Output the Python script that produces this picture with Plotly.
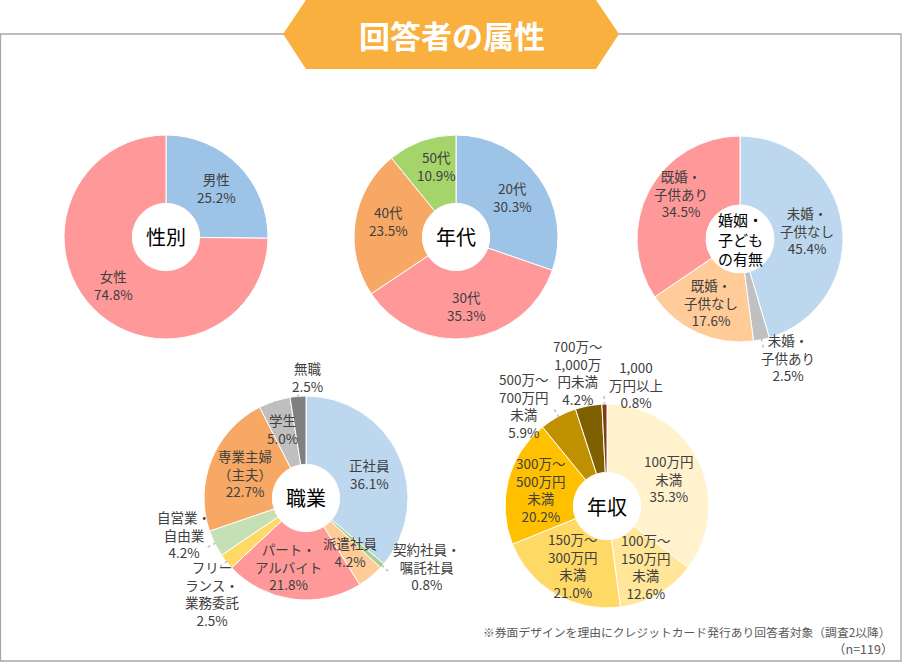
import math
import plotly.graph_objects as go

W, H = 902, 662

# ---------------- data ----------------
gender_labels = ["男性", "女性"]
gender_values = [25.2, 74.8]

age_labels = ["20代", "30代", "40代", "50代"]
age_values = [30.3, 35.3, 23.5, 10.9]

marital_labels = ["未婚・<br>子供なし", "未婚・<br>子供あり", "既婚・<br>子供なし", "既婚・<br>子供あり"]
marital_values = [45.4, 2.5, 17.6, 34.5]

job_labels = ["正社員", "契約社員・<br>嘱託社員", "派遣社員", "パート・<br>アルバイト",
              "フリー<br>ランス・<br>業務委託", "自営業・<br>自由業", "専業主婦<br>（主夫）", "学生", "無職"]
job_values = [36.1, 0.8, 4.2, 21.8, 2.5, 4.2, 22.7, 5.0, 2.5]

income_labels = ["100万円<br>未満", "100万～<br>150万円<br>未満", "150万～<br>300万円<br>未満",
                 "300万～<br>500万円<br>未満", "500万～<br>700万円<br>未満",
                 "700万～<br>1,000万<br>円未満", "1,000<br>万円以上"]
income_values = [35.3, 12.6, 21.0, 20.2, 5.9, 4.2, 0.8]

title_text = "回答者の属性"
note_lines = ["※券面デザインを理由にクレジットカード発行あり回答者対象（調査2以降）", "（n=119）"]

# ---------------- styles ----------------
gender_colors = ["#9DC3E6", "#FF9999"]
age_colors = ["#9DC3E6", "#FF9999", "#F7A864", "#A5D46A"]
marital_colors = ["#BDD7EE", "#C0C0C0", "#FFCC99", "#FF9999"]
job_colors = ["#BDD7EE", "#A9D18E", "#FFCC99", "#FF9999", "#FFD966", "#C5E0B4", "#F7A864", "#BFBFBF", "#808080"]
income_colors = ["#FFF2CC", "#FFE699", "#FFD966", "#FFC000", "#BF9000", "#7F6000", "#843C0C"]

FONT = "Noto Sans CJK JP"
TXT = "#404040"

pies = [
    dict(labels=gender_labels, values=gender_values, colors=gender_colors, c=(166, 237), r=102,
         center="性別", csize=20,
         place=[(0.69, 0), (0.70, 2)], leaders=[]),
    dict(labels=age_labels, values=age_values, colors=age_colors, c=(456, 237), r=102,
         center="年代", csize=20,
         place=[(0.68, 0), (0.68, -1), (0.68, 5), (0.72, 4)], leaders=[]),
    dict(labels=marital_labels, values=marital_values, colors=marital_colors, c=(740, 239), r=103,
         center="婚姻・<br>子ども<br>の有無", csize=15,
         place=[(0.66, 1), (1.24, -10), (0.68, 0), (0.72, 10)], leaders=[1]),
    dict(labels=job_labels, values=job_values, colors=job_colors, c=(306, 498), r=102,
         center="職業", csize=20,
         place=[(0.67, 4), (1.36, -12), (0.68, 0), (0.69, 7), (1.31, -7), (1.25, 10), (0.65, 0), (0.72, -1), (1.19, 5)],
         leaders=[1, 4, 5, 8]),
    dict(labels=income_labels, values=income_values, colors=income_colors, c=(607, 506), r=102,
         center="年収", csize=20,
         place=[(0.66, 2), (0.70, -2), (0.68, 0), (0.67, 0), (1.28, -11), (1.34, -2), (1.23, 15)],
         leaders=[4, 5, 6]),
]


def px(x):
    return x / W


def py(y):
    return 1 - y / H


fig = go.Figure()
annotations = []
shapes = []

# frame
shapes.append(dict(type="rect", xref="paper", yref="paper", x0=px(0.5), x1=px(901), y0=py(661), y1=py(34),
                   line=dict(color="#A6A6A6", width=1.3), fillcolor="rgba(0,0,0,0)", layer="below"))
# title banner (hexagon)
pts = [(283, 34), (306, 0), (596, 0), (619, 34), (596, 69), (306, 69)]
path = "M " + " L ".join(f"{px(a)},{py(b)}" for a, b in pts) + " Z"
shapes.append(dict(type="path", xref="paper", yref="paper", path=path, fillcolor="#F9B03F",
                   line=dict(width=0), layer="above"))
annotations.append(dict(x=px(452), y=py(35), xref="paper", yref="paper", text="<b>" + title_text + "</b>",
                        showarrow=False, font=dict(family=FONT, size=31, color="white"),
                        xanchor="center", yanchor="middle"))

for p in pies:
    cx, cy = p["c"]
    r = p["r"]
    fig.add_trace(go.Pie(
        labels=[l.replace("<br>", "") for l in p["labels"]], values=p["values"],
        marker=dict(colors=p["colors"], line=dict(color="white", width=1)),
        sort=False, direction="clockwise", rotation=0, hole=0.33,
        textinfo="none", hoverinfo="label+percent", showlegend=False,
        domain=dict(x=[px(cx - r), px(cx + r)], y=[py(cy + r), py(cy - r)]),
    ))
    annotations.append(dict(x=px(cx), y=py(cy), xref="paper", yref="paper", text=p["center"],
                            showarrow=False, font=dict(family=FONT, size=p["csize"], color="black"),
                            xanchor="center", yanchor="middle"))
    total = sum(p["values"])
    cum = 0
    for i, (lab, v) in enumerate(zip(p["labels"], p["values"])):
        mid = (cum + v / 2) / total * 360
        cum += v
        rf, dth = p["place"][i]
        ang = math.radians(mid + dth)
        lx = cx + rf * r * math.sin(ang)
        ly = cy - rf * r * math.cos(ang)
        annotations.append(dict(x=px(lx), y=py(ly), xref="paper", yref="paper",
                                text=f"{lab}<br>{v:.1f}%", showarrow=False,
                                font=dict(family=FONT, size=13.5, color=TXT),
                                xanchor="center", yanchor="middle"))
        if i in p["leaders"]:
            a = math.radians(mid)
            x0 = cx + 0.99 * r * math.sin(a)
            y0 = cy - 0.99 * r * math.cos(a)
            x1 = cx + 1.09 * r * math.sin(a)
            y1 = cy - 1.09 * r * math.cos(a)
            shapes.append(dict(type="line", xref="paper", yref="paper", x0=px(x0), y0=py(y0), x1=px(x1), y1=py(y1),
                               line=dict(color="#BFBFBF", width=1.5, dash="dot")))

# footnote
annotations.append(dict(x=px(893), y=py(631), xref="paper", yref="paper", text=note_lines[0], showarrow=False,
                        font=dict(family=FONT, size=11.8, color="#595959"), xanchor="right", yanchor="middle"))
annotations.append(dict(x=px(895), y=py(648), xref="paper", yref="paper", text=note_lines[1], showarrow=False,
                        font=dict(family=FONT, size=12.5, color="#595959"), xanchor="right", yanchor="middle"))

fig.update_layout(width=W, height=H, margin=dict(l=0, r=0, t=0, b=0),
                  paper_bgcolor="white", plot_bgcolor="white",
                  annotations=annotations, shapes=shapes, font=dict(family=FONT))
fig.write_html("out.html")
